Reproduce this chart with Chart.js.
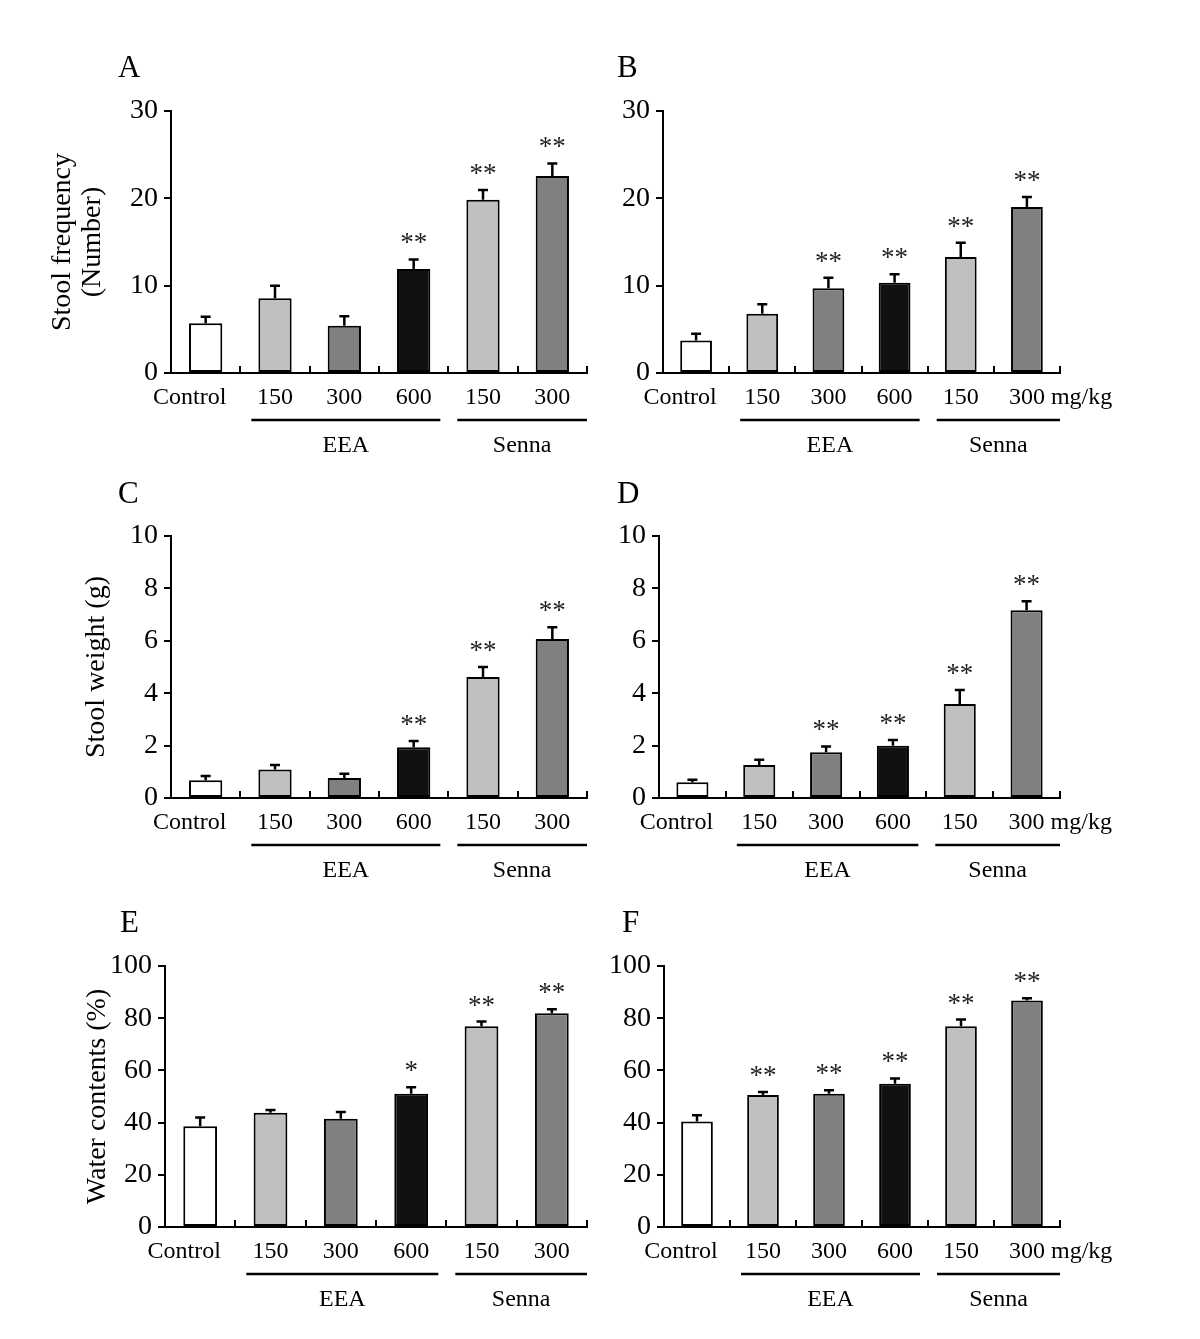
<!DOCTYPE html>
<html>
<head>
<meta charset="UTF-8">
<title>Stool frequency, weight and water contents</title>
<script src="https://cdn.jsdelivr.net/npm/chart.js"></script>
<style>
  *{padding:0; margin:0;}
  body{background:#fff; width:1200px; height:1339px; position:relative; overflow:hidden;}
  canvas{position:absolute;}
</style>
</head>
<body>
<canvas id="cA"></canvas>
<canvas id="cB"></canvas>
<canvas id="cC"></canvas>
<canvas id="cD"></canvas>
<canvas id="cE"></canvas>
<canvas id="cF"></canvas>
<script>
// categories / groups
const doses = ['Control', '150', '300', '600', '150', '300'];
const groups = ['EEA', 'Senna'];
const barColors = ['#ffffff', '#c0c0c0', '#808080', '#111111', '#c0c0c0', '#808080'];

// A, B : stool frequency (number)
const freqA = [5.7, 8.55, 5.4, 11.9, 19.85, 22.55];
const freqAErr = [6.45, 10.0, 6.5, 13.0, 20.95, 24.0];
const freqASig = ['', '', '', '**', '**', '**'];
const freqB = [3.73, 6.78, 9.71, 10.32, 13.29, 19.0];
const freqBErr = [4.49, 7.88, 10.92, 11.3, 14.92, 20.14];
const freqBSig = ['', '', '**', '**', '**', '**'];

// C, D : stool weight (g)
const weightC = [0.68, 1.09, 0.76, 1.94, 4.62, 6.07];
const weightCErr = [0.84, 1.26, 0.93, 2.18, 5.0, 6.52];
const weightCSig = ['', '', '', '**', '**', '**'];
const weightD = [0.6, 1.26, 1.75, 1.99, 3.59, 7.17];
const weightDErr = [0.7, 1.46, 1.97, 2.21, 4.12, 7.51];
const weightDSig = ['', '', '**', '**', '**', '**'];

// E, F : water contents (%)
const waterE = [38.6, 43.8, 41.5, 51.1, 76.9, 81.9];
const waterEErr = [42.0, 44.8, 44.1, 53.5, 78.7, 83.4];
const waterESig = ['', '', '', '*', '**', '**'];
const waterF = [40.4, 50.6, 51.1, 54.9, 76.9, 86.8];
const waterFErr = [42.8, 51.7, 52.4, 56.9, 79.5, 87.6];
const waterFSig = ['', '**', '**', '**', '**', '**'];

const serif = "'Liberation Serif', 'DejaVu Serif', serif";

// layout of each panel (canvas box + plot area inside it)
const panels = [
  {id:'cA', letter:'A', left:0,   top:30,  w:600, h:440, area:[171,587,81,343], yW:122.7, title:['Stool frequency','(Number)'], max:30, step:10, vals:freqA, errs:freqAErr, sigs:freqASig, unit:false, lx:118, ly:47},
  {id:'cB', letter:'B', left:600, top:30,  w:600, h:440, area:[63,460,81,343],  yW:55, title:null, max:30, step:10, vals:freqB, errs:freqBErr, sigs:freqBSig, unit:true, lx:17, ly:47},
  {id:'cC', letter:'C', left:0,   top:470, w:600, h:430, area:[171,587,66,328], yW:88.7, title:['Stool weight (g)'], max:10, step:2, vals:weightC, errs:weightCErr, sigs:weightCSig, unit:false, lx:118, ly:33},
  {id:'cD', letter:'D', left:600, top:470, w:600, h:430, area:[59,460,66,328],  yW:55, title:null, max:10, step:2, vals:weightD, errs:weightDErr, sigs:weightDSig, unit:true, lx:17, ly:33},
  {id:'cE', letter:'E', left:0,   top:900, w:600, h:439, area:[165,587,66,327], yW:81.7, title:['Water contents (%)'], max:100, step:20, vals:waterE, errs:waterEErr, sigs:waterESig, unit:false, lx:120, ly:32},
  {id:'cF', letter:'F', left:600, top:900, w:600, h:439, area:[64,460,66,327],  yW:55, title:null, max:100, step:20, vals:waterF, errs:waterFErr, sigs:waterFSig, unit:true, lx:22, ly:32}
];

// error bars, asterisks, category labels, group lines, panel letter
const decor = {
  id: 'decor',
  afterDatasetsDraw(chart, args, o) {
    const ctx = chart.ctx, x = chart.scales.x, y = chart.scales.y;
    const bars = chart.getDatasetMeta(0).data;
    const half = (x.getPixelForValue(1) - x.getPixelForValue(0)) / 2;
    const bottom = chart.chartArea.bottom;
    ctx.save();
    ctx.strokeStyle = '#000';
    ctx.fillStyle = '#000';
    ctx.lineWidth = 2.5;
    bars.forEach((b, i) => {
      const top = y.getPixelForValue(o.errs[i]);
      ctx.beginPath();
      ctx.moveTo(b.x, b.y);
      ctx.lineTo(b.x, top);
      ctx.moveTo(b.x - 5, top);
      ctx.lineTo(b.x + 5, top);
      ctx.stroke();
      if (o.sigs[i]) {
        ctx.font = '27px ' + serif;
        ctx.textAlign = 'center';
        ctx.textBaseline = 'alphabetic';
        ctx.fillStyle = '#222';
        ctx.fillText(o.sigs[i], b.x, top - 8);
        ctx.fillStyle = '#000';
      }
    });

    // dose labels
    ctx.font = '24px ' + serif;
    ctx.textBaseline = 'middle';
    doses.forEach((d, i) => {
      const cx = x.getPixelForValue(i);
      if (i === 0) {
        ctx.textAlign = 'center';
        ctx.fillText(d, cx - 16, bottom + 25);
      } else if (i === doses.length - 1 && o.unit) {
        ctx.textAlign = 'left';
        ctx.fillText(d + ' mg/kg', cx - ctx.measureText(d).width / 2, bottom + 25);
      } else {
        ctx.textAlign = 'center';
        ctx.fillText(d, cx, bottom + 25);
      }
    });

    // group lines and names
    const spans = [
      [x.getPixelForValue(1) - half + 11, x.getPixelForValue(3) + half - 8],
      [x.getPixelForValue(4) - half + 9, x.getPixelForValue(5) + half]
    ];
    ctx.lineWidth = 2.5;
    spans.forEach((s, g) => {
      ctx.beginPath();
      ctx.moveTo(s[0], bottom + 47);
      ctx.lineTo(s[1], bottom + 47);
      ctx.stroke();
      ctx.textAlign = 'center';
      ctx.fillText(groups[g], (s[0] + s[1]) / 2, bottom + 73);
    });

    // panel letter
    ctx.font = '31px ' + serif;
    ctx.textAlign = 'left';
    ctx.textBaseline = 'alphabetic';
    ctx.fillText(o.letter, o.lx, o.ly);
    ctx.restore();
  }
};

panels.forEach(p => {
  const cv = document.getElementById(p.id);
  cv.style.left = p.left + 'px';
  cv.style.top = p.top + 'px';
  cv.style.width = p.w + 'px';
  cv.style.height = p.h + 'px';
  cv.width = p.w;
  cv.height = p.h;
  const [l, r, t, b] = p.area;

  new Chart(cv, {
    type: 'bar',
    data: {
      labels: doses,
      datasets: [{
        data: p.vals,
        backgroundColor: barColors,
        borderColor: '#000',
        borderWidth: 2,
        borderSkipped: false,
        barPercentage: 0.48,
        categoryPercentage: 1
      }]
    },
    options: {
      responsive: false,
      animation: false,
      devicePixelRatio: 1,
      layout: {padding: {left: l - p.yW, right: p.w - r, top: t, bottom: p.h - b}},
      plugins: {
        legend: {display: false},
        tooltip: {enabled: false},
        decor: {errs: p.errs, sigs: p.sigs, unit: p.unit, letter: p.letter, lx: p.lx, ly: p.ly}
      },
      scales: {
        x: {
          offset: true,
          ticks: {display: false},
          grid: {display: true, offset: true, drawOnChartArea: false, drawTicks: true, tickLength: -7, color: '#000', lineWidth: 2},
          border: {display: true, color: '#000', width: 2},
          afterFit: s => { s.height = 0; }
        },
        y: {
          min: 0,
          max: p.max,
          ticks: {stepSize: p.step, color: '#000', padding: 6, font: {family: serif, size: 28}},
          grid: {drawOnChartArea: false, drawTicks: true, tickLength: 7, color: '#000', lineWidth: 2},
          border: {display: true, color: '#000', width: 2},
          title: {
            display: !!p.title,
            text: p.title || '',
            color: '#000',
            padding: 0,
            font: {family: serif, size: 28, lineHeight: 1.05}
          },
          afterFit: s => { s.width = p.yW; }
        }
      }
    },
    plugins: [decor]
  });
});
</script>
</body>
</html>
